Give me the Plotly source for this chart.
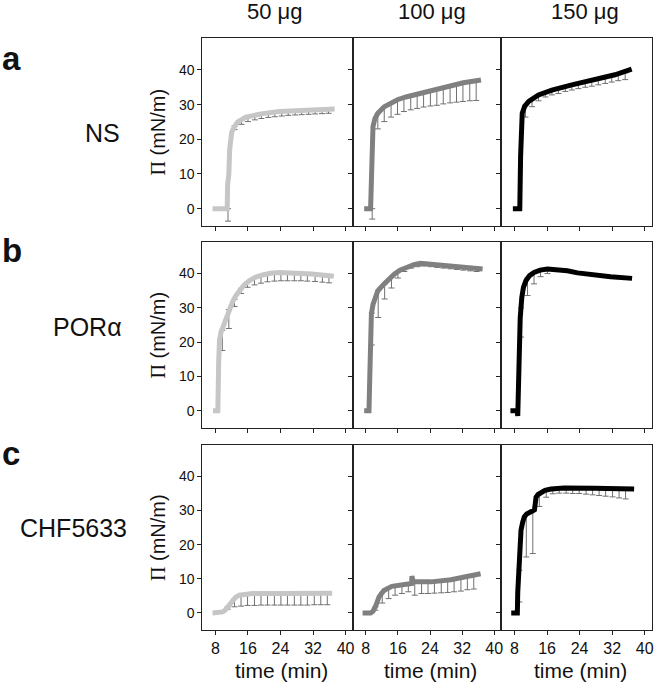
import plotly.graph_objects as go

# ---------------- data ----------------
doses = ["50 μg", "100 μg", "150 μg"]
rows = ["NS", "PORα", "CHF5633"]
letters = ["a", "b", "c"]
x_ticks = [8, 16, 24, 32, 40]
y_ticks = [0, 10, 20, 30, 40]

# Row a : NS
ns50_t = [7.3, 10.9, 11.0, 11.3, 11.5, 11.7, 12.0, 12.7, 13.5, 15.5, 17.5, 19.6, 23.7, 27.8, 31.8, 37.3]
ns50_y = [0, 0, 7, 10, 17, 20, 22, 23.7, 25, 26.4, 27.0, 27.4, 28.0, 28.2, 28.3, 28.7]
ns50_et = [11.1, 12.7, 14.4, 16.0, 17.7, 19.3, 21.0, 22.6, 24.3, 25.9, 27.6, 29.2, 30.9, 32.5, 34.2, 35.8]
ns50_em = [0, 23.8, 25.4, 26.2, 26.7, 27.1, 27.4, 27.6, 27.8, 28.0, 28.1, 28.2, 28.3, 28.4, 28.5, 28.6]
ns50_ed = [3.6, 1.0, 1.1, 1.1, 1.1, 1.1, 1.1, 1.1, 1.1, 1.1, 1.1, 1.1, 1.1, 1.1, 1.1, 1.1]

ns100_t = [7.6, 9.2, 9.4, 9.6, 9.8, 10.3, 11.0, 12.6, 14.3, 15.9, 18.0, 20.0, 24.1, 28.2, 32.3, 36.7]
ns100_y = [0, 0, 8, 18, 23.7, 26, 27.5, 29.4, 30.6, 31.4, 32.2, 32.8, 34.2, 35.2, 36.3, 37.1]
ns100_et = [9.6, 11.0, 12.6, 14.3, 15.9, 17.5, 19.2, 20.8, 22.4, 24.1, 25.7, 27.3, 29.0, 30.6, 32.2, 33.9, 35.5]
ns100_em = [0, 27.5, 29.4, 30.6, 31.4, 32.0, 32.6, 33.1, 33.6, 34.2, 34.5, 34.9, 35.3, 35.7, 36.2, 36.6, 36.9]
ns100_ed = [3.0, 4.5, 4.3, 4.2, 4.2, 4.0, 4.1, 4.2, 4.3, 4.6, 4.7, 4.7, 4.8, 5.0, 5.3, 5.5, 5.7]

ns150_t = [7.6, 9.3, 9.5, 9.7, 9.9, 10.5, 11.5, 13.9, 17.2, 22.1, 27.8, 32.7, 36.8]
ns150_y = [0, 0, 15, 22.7, 27.5, 29.5, 30.9, 32.8, 34.2, 35.7, 37.1, 38.6, 40.2]
ns150_et = [10.7, 12.3, 13.9, 15.6, 17.2, 18.8, 20.5, 22.1, 23.7, 25.4, 27.0, 28.6, 30.3, 31.9, 33.5, 35.2]
ns150_em = [29.8, 31.6, 32.8, 33.6, 34.2, 34.7, 35.3, 35.7, 36.2, 36.6, 37.0, 37.4, 37.9, 38.3, 38.8, 39.2]
ns150_ed = [3.4, 2.2, 1.7, 1.4, 1.4, 1.5, 1.5, 1.5, 1.6, 1.6, 1.7, 1.7, 1.8, 1.8, 1.9, 2.0]

# Row b : PORα
por50_t = [7.4, 8.6, 8.8, 9.0, 9.4, 10.0, 10.6, 11.4, 12.2, 13.0, 13.9, 15.0, 16.3, 17.8, 19.6, 21.5, 23.7, 27.8, 31.8, 37.1]
por50_y = [0, 0, 14, 20.6, 23, 25, 26.4, 29, 31.7, 33.5, 35.0, 36.6, 37.9, 38.9, 39.6, 40.1, 40.3, 40.1, 39.9, 39.2]
por50_et = [9.7, 11.3, 12.7, 14.3, 15.9, 17.6, 19.2, 20.8, 22.5, 24.1, 25.7, 27.4, 29.0, 30.6, 32.5, 34.3, 35.9]
por50_em = [23.5, 29.5, 32.5, 35.7, 37.5, 38.7, 39.5, 40.0, 40.2, 40.3, 40.3, 40.1, 40.0, 39.9, 39.8, 39.6, 39.4]
por50_ed = [5.9, 5.5, 2.1, 1.5, 1.5, 2.0, 2.3, 2.4, 2.4, 2.4, 2.4, 2.2, 2.1, 2.1, 2.1, 2.1, 2.1]

por100_t = [7.6, 8.8, 9.0, 9.2, 9.4, 9.8, 10.3, 11.0, 12.6, 13.8, 15.1, 16.5, 18.3, 20.0, 21.6, 24.8, 28.9, 33.0, 37.1]
por100_y = [0, 0, 10, 20, 28.3, 31, 33.1, 35.0, 37.0, 38.5, 39.8, 41.0, 42.0, 42.6, 43.0, 42.7, 42.2, 41.8, 41.3]
por100_et = [9.5, 11.1, 12.7, 14.4, 16.0, 17.6, 19.3, 20.9, 22.5, 24.2, 25.8, 27.4, 29.1, 30.7, 32.3, 34.0, 35.6]
por100_em = [28.5, 35.0, 37.0, 38.9, 40.5, 41.6, 42.3, 42.8, 43.0, 42.8, 42.6, 42.4, 42.2, 42.0, 41.9, 41.7, 41.5]
por100_ed = [9.3, 7.8, 4.4, 3.1, 1.8, 1.0, 0.7, 0.8, 0.8, 0.8, 0.8, 0.8, 0.8, 0.8, 0.9, 0.9, 0.9]

por150_t = [7.0, 8.7, 8.8, 8.9, 9.1, 9.4, 9.8, 10.2, 10.8, 11.7, 12.8, 14.3, 16.1, 18.5, 21.0, 23.5, 25.9, 31.6, 36.9]
por150_y = [0, 0, -1.5, 8, 18, 27, 33.1, 36, 37.9, 39.4, 40.3, 41.0, 41.3, 41.2, 40.8, 40.2, 39.8, 39.1, 38.6]
por150_et = [9.6, 11.2, 12.8, 14.4, 16.1]
por150_em = [30.0, 38.8, 40.3, 41.0, 41.3]
por150_ed = [8.5, 5.2, 3.3, 1.9, 1.3]

# Row c : CHF5633
chf50_t = [7.3, 9.8, 10.4, 11.0, 11.6, 12.2, 13.0, 13.9, 15.5, 17.1, 23.7, 30.0, 36.7]
chf50_y = [0, 0.3, 0.8, 1.8, 2.8, 3.7, 4.6, 5.2, 5.5, 5.7, 5.7, 5.7, 5.8]
chf50_et = [11.0, 12.7, 14.3, 15.9, 17.6, 19.2, 20.8, 22.5, 24.1, 25.7, 27.4, 29.0, 30.6, 32.3, 33.9, 35.5]
chf50_em = [1.8, 4.2, 5.3, 5.5, 5.6, 5.7, 5.7, 5.7, 5.7, 5.7, 5.7, 5.7, 5.7, 5.8, 5.8, 5.8]
chf50_ed = [0.7, 2.4, 3.3, 3.3, 3.4, 3.4, 3.4, 3.4, 3.4, 3.4, 3.4, 3.4, 3.4, 3.4, 3.4, 3.4]

chf100_t = [7.2, 9.2, 9.8, 10.4, 11.3, 12.5, 14.5, 17.8, 19.4, 19.5, 19.7, 20.2, 24.3, 29.2, 33.3, 36.6]
chf100_y = [0, 0, 0.5, 1.8, 4.7, 6.6, 7.8, 8.3, 8.6, 10.8, 9.6, 9.1, 9.1, 9.7, 10.5, 11.5]
chf100_et = [10.4, 12.1, 13.7, 15.3, 17.0, 18.6, 20.2, 21.9, 23.5, 25.1, 26.8, 28.4, 30.0, 31.7, 33.3, 34.9]
chf100_em = [1.8, 6.0, 7.5, 8.0, 8.2, 8.5, 9.1, 9.1, 9.1, 9.2, 9.4, 9.6, 9.8, 10.0, 10.5, 10.9]
chf100_ed = [1.0, 3.1, 3.3, 2.8, 2.5, 2.3, 3.9, 3.4, 3.4, 3.4, 3.5, 3.6, 3.6, 3.6, 3.7, 3.9]

chf150_t = [7.2, 8.7, 8.8, 9.0, 9.2, 9.4, 9.6, 10.0, 10.4, 11.0, 11.7, 12.9, 13.1, 13.3, 13.8, 14.5, 15.5, 17.0, 20.2, 27.6, 37.4]
chf150_y = [0, 0, 6, 12.5, 12.5, 18, 24.2, 26.5, 28.1, 29.0, 29.5, 30.2, 32, 33.9, 34.7, 35.3, 35.9, 36.3, 36.6, 36.5, 36.3]
chf150_et = [9.2, 10.9, 12.5, 14.1, 15.8, 17.4, 19.0, 20.7, 22.3, 23.9, 25.6, 27.2, 28.8, 30.4, 32.1, 33.7, 35.3]
chf150_em = [12.5, 28.8, 30.1, 35.0, 36.0, 36.3, 36.5, 36.6, 36.6, 36.6, 36.5, 36.5, 36.5, 36.4, 36.4, 36.4, 36.3]
chf150_ed = [9.3, 12.4, 12.7, 3.8, 2.1, 1.4, 1.4, 1.5, 1.6, 1.6, 1.7, 1.9, 2.1, 2.2, 2.4, 2.7, 2.9]

panels = [
    [(ns50_t, ns50_y, ns50_et, ns50_em, ns50_ed),
     (ns100_t, ns100_y, ns100_et, ns100_em, ns100_ed),
     (ns150_t, ns150_y, ns150_et, ns150_em, ns150_ed)],
    [(por50_t, por50_y, por50_et, por50_em, por50_ed),
     (por100_t, por100_y, por100_et, por100_em, por100_ed),
     (por150_t, por150_y, por150_et, por150_em, por150_ed)],
    [(chf50_t, chf50_y, chf50_et, chf50_em, chf50_ed),
     (chf100_t, chf100_y, chf100_et, chf100_em, chf100_ed),
     (chf150_t, chf150_y, chf150_et, chf150_em, chf150_ed)],
]

# ---------------- styling / layout ----------------
W, H = 660, 682
line_colors = ["#c6c6c6", "#808080", "#000000"]
err_color = "#707070"
col_px = [(203, 354), (354, 503), (503, 654)]
row_px = [(38, 226), (242, 428), (445, 630)]
FONT = "Liberation Sans, Arial, sans-serif"

fig = go.Figure()
layout = dict(
    width=W, height=H, margin=dict(l=0, r=0, t=0, b=0),
    paper_bgcolor="white", plot_bgcolor="white",
    showlegend=False, font=dict(family=FONT, color="#111"),
)
annotations = []

for r in range(3):
    for c in range(3):
        k = r * 3 + c + 1
        xs = "x" if k == 1 else f"x{k}"
        ys = "y" if k == 1 else f"y{k}"
        t, y, et, em, ed = panels[r][c]
        fig.add_trace(go.Scatter(
            x=et, y=em, mode="markers", xaxis=xs, yaxis=ys,
            marker=dict(size=1, color="rgba(0,0,0,0)"),
            error_y=dict(type="data", symmetric=False, array=[0] * len(ed),
                         arrayminus=ed, color=err_color, thickness=1, width=3),
            hoverinfo="skip"))
        fig.add_trace(go.Scatter(
            x=t, y=y, mode="lines", xaxis=xs, yaxis=ys,
            line=dict(color=line_colors[c], width=5), hoverinfo="skip"))
        x0, x1 = col_px[c]
        y0, y1 = row_px[r]
        xk = "xaxis" if k == 1 else f"xaxis{k}"
        yk = "yaxis" if k == 1 else f"yaxis{k}"
        layout[xk] = dict(
            domain=[x0 / W, x1 / W], anchor=ys, range=[4.8, 41.8],
            tickvals=x_ticks, ticktext=[str(v) for v in x_ticks],
            showticklabels=(r == 2), ticks="outside", ticklen=4,
            tickcolor="#222", showline=True, linecolor="#222", linewidth=1,
            mirror=True, showgrid=False, zeroline=False,
            tickfont=dict(size=16, family=FONT, color="#111"))
        layout[yk] = dict(
            domain=[1 - y1 / H, 1 - y0 / H], anchor=xs, range=[-5, 49.2],
            tickvals=y_ticks, ticktext=[str(v) for v in y_ticks],
            showticklabels=(c == 0), ticks="outside", ticklen=4,
            tickcolor="#222", showline=True, linecolor="#222", linewidth=1,
            mirror=True, showgrid=False, zeroline=False,
            tickfont=dict(size=14, family=FONT, color="#111"))

def ann(text, px, py, size, **kw):
    d = dict(text=text, x=px / W, y=1 - py / H, xref="paper", yref="paper",
             xanchor="center", yanchor="middle",
             showarrow=False, font=dict(size=size, family=FONT, color="#111"))
    d.update(kw)
    annotations.append(d)

# column headers
for c, (cx, txt) in enumerate(zip([276, 433, 587], doses)):
    ann(txt, cx, 12, 22)

# row letters, row labels, y-axis titles
letter_y = [58, 250, 453]
label_pos = [(103, 133), (88, 327), (74, 528)]
for r in range(3):
    ann("<b>%s</b>" % letters[r], 0, letter_y[r], 33, xanchor="left")
    ann(rows[r], label_pos[r][0], label_pos[r][1], 25)
    yc = (row_px[r][0] + row_px[r][1]) / 2
    ann("<span style=\"font-family:'Liberation Serif',serif\">Π</span> (mN/m)", 158, yc, 20,
        textangle=-90)

# x-axis titles
for c, cx in enumerate([282, 432, 582]):
    ann("time (min)", cx, 670, 21)

layout["annotations"] = annotations
fig.update_layout(**layout)
fig.write_html("out.html", config={"displayModeBar": False},
               post_script="document.body.style.margin='0';document.body.style.overflow='hidden';")
